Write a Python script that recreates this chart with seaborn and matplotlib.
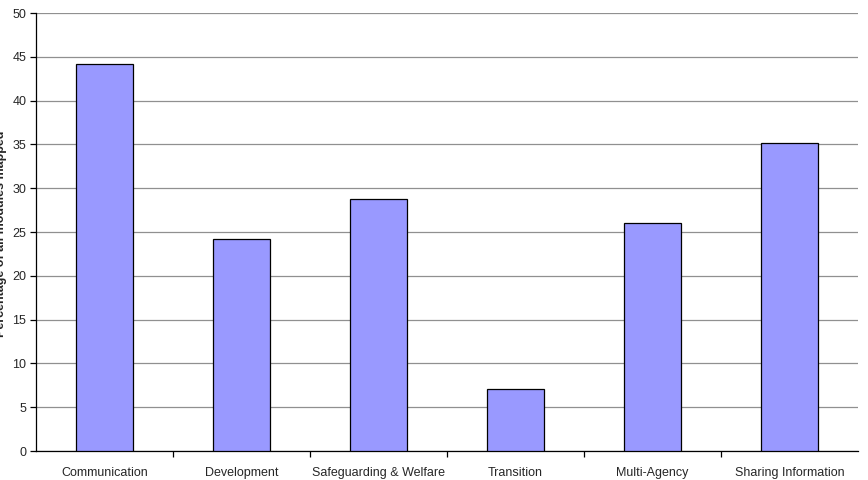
import seaborn as sns
import matplotlib.pyplot as plt
import pandas as pd
from matplotlib.ticker import FixedLocator, MultipleLocator

categories = ['Communication', 'Development', 'Safeguarding & Welfare',
              'Transition', 'Multi-Agency', 'Sharing Information']
values = [44.2, 24.2, 28.8, 7.1, 26.0, 35.2]

df = pd.DataFrame({'category': categories, 'pct': values})

sns.set_style('white')
plt.rcParams['font.family'] = ['Liberation Sans', 'DejaVu Sans']

fig = plt.figure(figsize=(8.68, 4.8), dpi=100)
ax = fig.add_axes([0.0415, 0.0604, 0.947, 0.9125])

sns.barplot(data=df, x='category', y='pct', color='#9999FF', saturation=1,
            edgecolor='black', linewidth=0.9, width=0.41, ax=ax, zorder=3)

ax.set_ylim(0, 50)
ax.set_xlim(-0.5, 5.5)
ax.yaxis.set_major_locator(MultipleLocator(5))
ax.grid(axis='y', color='#909090', linewidth=0.9, zorder=0)
ax.set_axisbelow(True)

for s in ['top', 'right']:
    ax.spines[s].set_visible(False)
for s in ['left', 'bottom']:
    ax.spines[s].set_color('black')
    ax.spines[s].set_linewidth(0.9)

ax.tick_params(axis='y', which='major', left=True, length=4, width=0.9,
               color='black', labelsize=9, pad=3)
ax.tick_params(axis='x', which='major', bottom=False, labelsize=9, pad=8)
ax.xaxis.set_minor_locator(FixedLocator([0.5, 1.5, 2.5, 3.5, 4.5]))
ax.tick_params(axis='x', which='minor', bottom=True, length=4, width=0.9,
               color='black')

ax.set_xlabel('')
ax.set_ylabel('')
fig.text(0.001, 0.5125, 'Percentage of all modules mapped', rotation=90,
         fontsize=9, fontweight='bold', ha='center', va='center')

fig.savefig('out.png', dpi=100)
